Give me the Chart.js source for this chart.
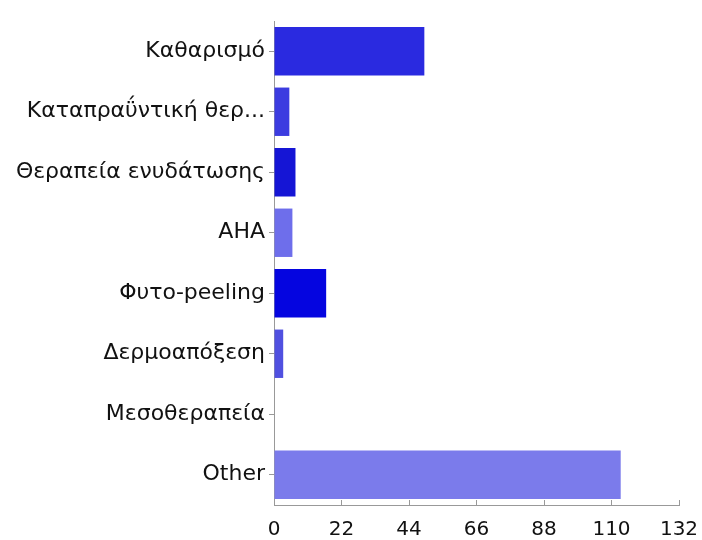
<!DOCTYPE html>
<html>
<head>
<meta charset="utf-8">
<script src="https://cdn.jsdelivr.net/npm/chart.js@4.4.1/dist/chart.umd.min.js"></script>
<style>
  html, body { margin: 0; padding: 0; background: #ffffff; }
  #wrap { width: 702px; height: 540px; position: relative; }
</style>
</head>
<body>
<div id="wrap"><canvas id="c" width="702" height="540"></canvas></div>
<script>
const categories = [
  "Καθαρισμό",
  "Καταπραΰντική θερ...",
  "Θεραπεία ενυδάτωσης",
  "AHA",
  "Φυτο-peeling",
  "Δερμοαπόξεση",
  "Μεσοθεραπεία",
  "Other"
];
const counts = [49, 5, 7, 6, 17, 3, 0, 113];
const barColors = ["#2a2ae0", "#3c3ce0", "#1515d5", "#6e6eeb", "#0505e0", "#5050e0", "#5050e0", "#7b7beb"];
const xTicks = [0, 22, 44, 66, 88, 110, 132];

const FONT = "'DejaVu Sans', sans-serif";

new Chart(document.getElementById('c'), {
  type: 'bar',
  data: {
    labels: categories,
    datasets: [{
      data: counts,
      backgroundColor: barColors,
      borderWidth: 0,
      barPercentage: 0.8,
      categoryPercentage: 1.0
    }]
  },
  options: {
    indexAxis: 'y',
    responsive: false,
    animation: false,
    devicePixelRatio: 1,
    layout: { padding: { left: 0, right: 0, top: 21, bottom: 0 } },
    plugins: { legend: { display: false }, tooltip: { enabled: false } },
    scales: {
      x: {
        min: 0, max: 132,
        afterBuildTicks: (s) => { s.ticks = xTicks.map(v => ({ value: v })); },
        afterFit: (s) => { s.height = 35; s.paddingRight = 23; s.paddingLeft = 0; },
        grid: { drawOnChartArea: false, drawTicks: true, tickLength: -5, color: '#999999' },
        border: { display: true, color: '#999999', width: 1 },
        ticks: { color: '#111111', font: { family: FONT, size: 20 }, padding: 18, maxRotation: 0 }
      },
      y: {
        afterFit: (s) => { s.width = 274; },
        grid: { drawOnChartArea: false, drawTicks: true, tickLength: 5, color: '#999999', offset: false },
        border: { display: true, color: '#999999', width: 1 },
        ticks: { color: '#111111', font: { family: FONT, size: 22 }, padding: 4, autoSkip: false }
      }
    }
  }
});
</script>
</body>
</html>
